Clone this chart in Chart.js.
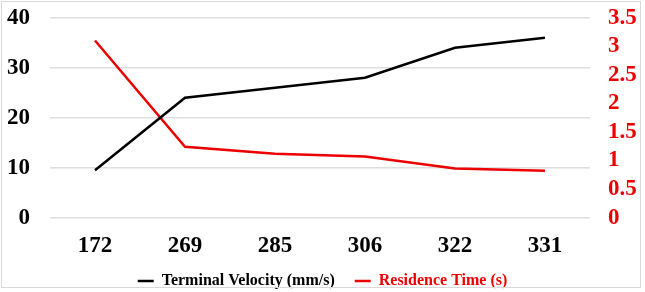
<!DOCTYPE html>
<html>
<head>
<meta charset="utf-8">
<script src="https://cdn.jsdelivr.net/npm/chart.js@4.4.1/dist/chart.umd.min.js"></script>
<style>
  html, body { margin: 0; padding: 0; background: #fff; }
  #wrap { position: relative; width: 645px; height: 292px; }
  #frame { position: absolute; left: 1px; top: 1px; width: 638px; height: 285px; border: 1px solid #d9d9d9; pointer-events: none; }
</style>
</head>
<body>
<div id="wrap">
  <canvas id="grafica" width="645" height="292"></canvas>
  <div id="frame"></div>
</div>
<script>
var categorias = ["172", "269", "285", "306", "322", "331"];
var velocidad  = [9.5, 24, 26, 28, 34, 36];
var residencia = [3.1, 1.24, 1.12, 1.07, 0.86, 0.82];

var colores = {
	negro: '#000000',
	rojo: '#ee0000',
	grid: '#dedede'
};

var fuente = "'Liberation Serif', 'Times New Roman', serif";

var datos = {
	labels: categorias,
	datasets: [
		{
			label: "Terminal Velocity (mm/s)",
			data: velocidad,
			borderColor: colores.negro,
			backgroundColor: colores.negro,
			borderWidth: 2.5,
			pointRadius: 0,
			tension: 0,
			yAxisID: 'y'
		},
		{
			label: "Residence Time (s)",
			data: residencia,
			borderColor: colores.rojo,
			backgroundColor: colores.rojo,
			borderWidth: 2.5,
			pointRadius: 0,
			tension: 0,
			yAxisID: 'y1'
		}
	]
};

// ancho fijo del eje y sin el relleno extra arriba/abajo
function fijarEje(ancho) {
	return function(scale) {
		scale.width = ancho;
		scale.paddingTop = 0;
		scale.paddingBottom = 0;
	};
}

var grafica = new Chart(document.getElementById('grafica'), {
	type: 'line',
	data: datos,
	options: {
		responsive: false,
		animation: false,
		layout: { padding: { top: 17.7, left: 0, right: 0, bottom: 0 } },
		scales: {
			x: {
				offset: true,
				grid: { display: false, drawTicks: false },
				border: { display: false },
				ticks: { color: colores.negro, padding: 15, font: { family: fuente, size: 23, weight: 'bold' } },
				afterFit: function(scale) { scale.height = 35.3; }
			},
			y: {
				position: 'left',
				min: 0,
				max: 40,
				ticks: { stepSize: 10, color: colores.negro, padding: 20, font: { family: fuente, size: 23, weight: 'bold' } },
				grid: { color: colores.grid, lineWidth: 1.5, drawTicks: false },
				border: { display: false },
				afterFit: fijarEje(50)
			},
			y1: {
				position: 'right',
				min: 0,
				max: 3.5,
				ticks: {
					stepSize: 0.5,
					autoSkip: false,
					color: colores.rojo,
					padding: 18,
					font: { family: fuente, size: 23, weight: 'bold' },
					callback: function(v) { return String(v); }
				},
				grid: { drawOnChartArea: false, drawTicks: false },
				border: { display: false },
				afterFit: fijarEje(55)
			}
		},
		plugins: {
			tooltip: { enabled: false },
			legend: {
				position: 'bottom',
				maxHeight: 39,
				labels: {
					usePointStyle: true,
					pointStyle: 'line',
					pointStyleWidth: 16,
					padding: 20,
					font: { family: fuente, size: 16, weight: 'bold' },
					generateLabels: function(chart) {
						var items = Chart.defaults.plugins.legend.labels.generateLabels(chart);
						items.forEach(function(it, i) {
							it.fontColor = chart.data.datasets[i].borderColor;
							it.pointStyle = 'line';
						});
						return items;
					}
				}
			}
		}
	}
});
</script>
</body>
</html>
